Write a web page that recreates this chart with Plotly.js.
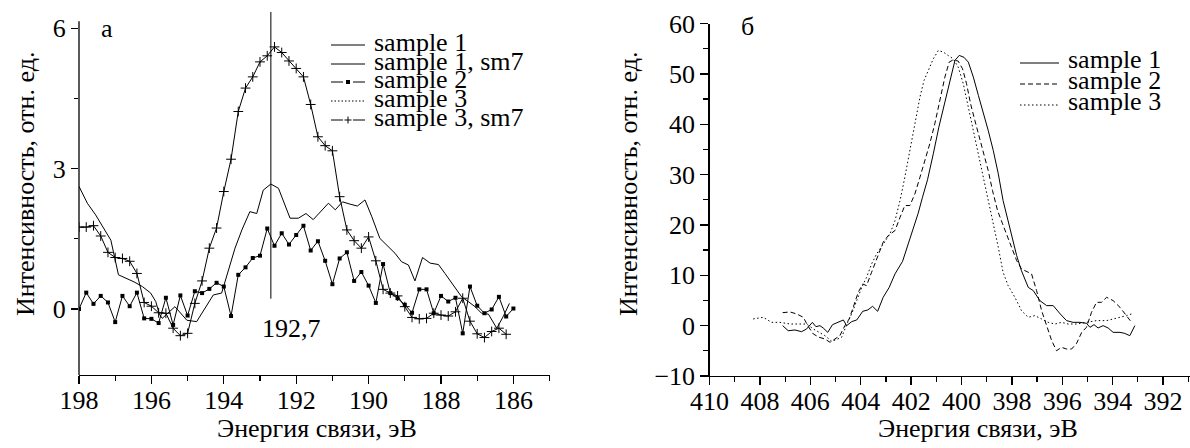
<!DOCTYPE html>
<html>
<head>
<meta charset="utf-8">
<script src="https://cdn.plot.ly/plotly-3.0.1.min.js"></script>
<style>
  html, body { margin: 0; padding: 0; background: #fff; }
  #chart { width: 1190px; height: 448px; }
</style>
</head>
<body>
<div id="chart"></div>
<script>
// ---------- Panel а: B 1s region ----------
const s1Energy = [198.0, 197.77, 197.54, 197.3, 197.12, 196.91, 196.71, 196.48, 196.25, 196.02,
  195.88, 195.78, 195.7, 195.35, 195.02, 194.75, 194.29, 194.06, 193.69, 193.5,
  193.28, 193.09, 192.91, 192.7, 192.49, 192.17, 191.94, 191.73, 191.53, 191.11,
  190.92, 190.72, 190.51, 190.31, 190.1, 189.91, 189.69, 189.46, 189.27, 189.09,
  188.9, 188.72, 188.51, 188.3, 188.07, 187.89, 187.66, 187.43, 187.25, 187.06,
  186.88, 186.69, 186.46, 186.28, 186.11];
const s1Intensity = [2.62, 2.26, 2.01, 1.69, 1.47, 0.73, 0.66, 0.58, 0.48, 0.34,
  0.16, -0.11, -0.2, 0.05, -0.24, -0.27, 0.30, 0.34, 1.30, 1.69,
  2.08, 2.04, 2.54, 2.67, 2.58, 1.94, 1.94, 2.04, 1.91, 2.26,
  2.12, 2.29, 2.24, 2.2, 2.33, 1.97, 1.51, 1.33, 1.19, 1.01,
  0.94, 0.60, 1.10, 0.98, 0.95, 0.76, 0.51, 0.26, 0.16, 0.05,
  -0.09, -0.11, -0.41, -0.16, 0.12];

const s2Energy = [198.0, 197.8, 197.6, 197.4, 197.2, 197.0, 196.8, 196.6, 196.4, 196.2,
  196.0, 195.8, 195.6, 195.4, 195.2, 195.0, 194.8, 194.6, 194.4, 194.2,
  194.0, 193.8, 193.6, 193.4, 193.2, 193.0, 192.8, 192.6, 192.4, 192.2,
  192.0, 191.8, 191.6, 191.4, 191.2, 191.0, 190.8, 190.6, 190.4, 190.2,
  190.0, 189.8, 189.6, 189.4, 189.2, 189.0, 188.8, 188.6, 188.4, 188.2,
  188.0, 187.8, 187.6, 187.4, 187.2, 187.0, 186.8, 186.6, 186.4, 186.2, 186.0];
const s2Intensity = [0.00, 0.35, 0.11, 0.28, 0.14, -0.28, 0.28, 0.06, 0.35, -0.20,
  -0.21, -0.30, 0.24, -0.34, 0.29, -0.14, 0.38, 0.34, 0.43, 0.56,
  0.48, -0.15, 0.73, 0.89, 1.09, 1.14, 1.72, 1.35, 1.62, 1.38,
  1.58, 1.78, 1.25, 1.45, 1.03, 0.53, 1.08, 1.21, 0.60, 0.79,
  0.50, 0.13, 0.96, 0.34, 0.23, 0.09, -0.08, 0.42, 0.42, -0.09,
  0.28, 0.16, 0.24, -0.52, 0.48, 0.07, -0.09, -0.01, 0.26, -0.16, 0.01];

const s3smEnergy = [198.0, 197.8, 197.6, 197.4, 197.2, 197.0, 196.8, 196.6, 196.4, 196.2,
  196.0, 195.8, 195.6, 195.4, 195.2, 195.0, 194.8, 194.6, 194.4, 194.2,
  194.0, 193.8, 193.6, 193.4, 193.2, 193.0, 192.8, 192.6, 192.4, 192.2,
  192.0, 191.8, 191.6, 191.4, 191.2, 191.0, 190.8, 190.6, 190.4, 190.2,
  190.0, 189.8, 189.6, 189.4, 189.2, 189.0, 188.8, 188.6, 188.4, 188.2,
  188.0, 187.8, 187.6, 187.4, 187.2, 187.0, 186.8, 186.6, 186.4, 186.2];
const s3smIntensity = [1.75, 1.75, 1.78, 1.56, 1.21, 1.10, 1.08, 1.02, 0.76, 0.14,
  0.06, -0.08, -0.09, -0.41, -0.57, -0.52, 0.12, 0.60, 1.30, 1.73,
  2.51, 3.20, 4.22, 4.72, 4.96, 5.28, 5.41, 5.60, 5.48, 5.30,
  5.14, 4.96, 4.37, 3.68, 3.49, 3.38, 2.40, 1.69, 1.46, 1.30,
  1.54, 1.03, 0.42, 0.34, 0.28, 0.05, -0.18, -0.21, -0.20, -0.09,
  -0.13, -0.15, -0.06, 0.23, -0.26, -0.53, -0.61, -0.48, -0.41, -0.54];

// marked peak position and the stem of its marker line
const peakEnergy = 192.7;
const peakLineBottom = 0.22;
const peakLineTop = 6.35;

const legendA = ['sample 1', 'sample 1, sm7', 'sample 2', 'sample 3', 'sample 3, sm7'];

// ---------- Panel б: N 1s region ----------
const n1Energy = [407.1, 406.88, 406.61, 406.35, 406.15, 405.92, 405.78, 405.62, 405.49, 405.31,
  405.12, 404.89, 404.69, 404.56, 404.36, 404.16, 403.92, 403.72, 403.53, 403.33,
  403.11, 402.87, 402.64, 402.34, 402.11, 401.92, 401.72, 401.55, 401.35, 401.12,
  400.9, 400.66, 400.42, 400.26, 400.09, 399.9, 399.73, 399.53, 399.33, 399.14,
  398.94, 398.74, 398.54, 398.35, 398.15, 398.01, 397.81, 397.62, 397.35, 397.15,
  396.89, 396.62, 396.36, 396.08, 395.83, 395.57, 395.30, 395.04, 394.9, 394.74,
  394.58, 394.38, 394.18, 393.98, 393.71, 393.52, 393.32, 393.12];
const n1Intensity = [0, -1.0, -0.86, -1.2, -0.66, 0.66, -0.2, 0, -0.46, -1.33,
  0.2, 0.66, 1.13, 0, 0.8, 1.13, 2.85, 3.12, 3.84, 2.85,
  5.63, 7.61, 10.28, 12.78, 16.24, 19.54, 22.33, 25.5, 28.97, 34.14,
  39.42, 44.4, 49.37, 52.7, 53.68, 53.3, 52.35, 49.37, 45.73, 42.4,
  38.77, 34.8, 30.16, 24.85, 20.87, 18.2, 13.9, 10.9, 7.6, 6.96,
  4.97, 3.98, 3.98, 2.32, 1.0, 0.66, 0.66, 0.46, -0.33, 0.2,
  -0.46, 0, -0.46, -1.33, -1.33, -1.53, -1.99, 0];

const n2Energy = [407.1, 406.81, 406.54, 406.28, 406.08, 405.88, 405.65, 405.42, 405.22, 405.02,
  404.83, 404.63, 404.46, 404.3, 404.1, 403.92, 403.77, 403.57, 403.37, 403.11,
  402.91, 402.64, 402.44, 402.25, 402.05, 401.85, 401.65, 401.45, 401.26, 401.06,
  400.86, 400.66, 400.49, 400.33, 400.13, 399.96, 399.8, 399.64, 399.47, 399.3,
  399.14, 398.94, 398.77, 398.57, 398.37, 398.21, 398.01, 397.81, 397.62, 397.42,
  397.22, 397.02, 396.82, 396.62, 396.42, 396.23, 396.03, 395.83, 395.63, 395.43,
  395.23, 395.04, 394.84, 394.64, 394.44, 394.24, 393.98, 393.71, 393.45, 393.25];
const n2Intensity = [2.58, 2.72, 2.32, 1.66, -0.2, -1.66, -2.32, -2.65, -3.31, -2.65,
  -1.99, 0, 1.33, 3.64, 6.63, 8.28, 7.95, 10.6, 13.26, 16.56,
  17.89, 18.89, 21.53, 23.86, 23.86, 26.18, 29.48, 32.8, 36.12, 40.1,
  44.73, 49.37, 52.35, 52.8, 52.55, 51.03, 48.05, 44.07, 40.76, 37.44,
  34.14, 30.8, 26.84, 22.86, 20.22, 18.2, 15.57, 12.92, 11.27, 10.8,
  10.28, 6.96, 2.98, 0, -2.98, -4.97, -4.31, -4.64, -4.64, -3.5,
  -1.33, -0.33, 2.65, 4.64, 4.64, 5.63, 4.97, 3.64, 1.99, 0.66];

const n3Energy = [408.27, 407.87, 407.54, 407.21, 406.81, 406.41, 406.15, 405.88, 405.62, 405.42,
  405.15, 404.96, 404.76, 404.56, 404.36, 404.16, 403.96, 403.77, 403.57, 403.37,
  403.11, 402.84, 402.64, 402.44, 402.25, 402.05, 401.85, 401.65, 401.49, 401.32,
  401.12, 400.92, 400.72, 400.53, 400.33, 400.13, 399.93, 399.73, 399.53, 399.33,
  399.14, 398.94, 398.74, 398.54, 398.35, 398.15, 397.88, 397.62, 397.35, 397.09,
  396.82, 396.56, 396.29, 396.03, 395.77, 395.43, 395.04, 394.64, 394.24, 393.85,
  393.45, 393.18];
const n3Intensity = [1.33, 1.66, 0.66, 0.66, 0.33, 0.33, 0.33, -0.66, -1.33, -1.99,
  -3.12, -2.65, -2.32, 0.2, 2.32, 4.97, 7.61, 9.6, 12.26, 14.25,
  16.24, 18.23, 20.87, 24.85, 29.48, 34.8, 40.76, 45.4, 48.7, 50.7,
  53.0, 54.67, 54.33, 53.68, 53.0, 51.35, 48.05, 43.4, 38.77, 34.14,
  30.16, 25.5, 20.87, 15.57, 10.6, 7.95, 5.63, 2.98, 1.66, 1.99,
  1.33, 0.66, 0.33, 0.66, 0.33, 0.33, 0.66, 1.0, 1.0, 1.46,
  1.99, 2.45];

const legendB = ['sample 1', 'sample 2', 'sample 3'];

const xTitle = 'Энергия связи, эВ';
const yTitle = 'Интенсивность, отн. ед.';

// ---------- layout helpers (pixel -> paper) ----------
const W = 1190, H = 448;
const FONT = '"Liberation Serif", "Times New Roman", "DejaVu Serif", serif';
const BLACK = '#000';
const px = v => v / W;
const py = v => 1 - v / H;

const lineStyle = { color: BLACK, width: 1 };

const traces = [
  { x: s1Energy, y: s1Intensity, xaxis: 'x', yaxis: 'y', mode: 'lines',
    line: lineStyle, name: 'sample 1' },
  { x: s2Energy, y: s2Intensity, xaxis: 'x', yaxis: 'y', mode: 'lines+markers',
    line: lineStyle, marker: { symbol: 'square', size: 4, color: BLACK }, name: 'sample 2' },
  { x: s3smEnergy, y: s3smIntensity, xaxis: 'x', yaxis: 'y', mode: 'lines+markers',
    line: lineStyle,
    marker: { symbol: 'cross-thin', size: 7, color: BLACK, line: { color: BLACK, width: 1 } },
    name: 'sample 3, sm7' },
  { x: n1Energy, y: n1Intensity, xaxis: 'x2', yaxis: 'y2', mode: 'lines',
    line: { color: BLACK, width: 1 }, name: 'sample 1' },
  { x: n2Energy, y: n2Intensity, xaxis: 'x2', yaxis: 'y2', mode: 'lines',
    line: { color: BLACK, width: 1, dash: '5px,3px' }, name: 'sample 2' },
  { x: n3Energy, y: n3Intensity, xaxis: 'x2', yaxis: 'y2', mode: 'lines',
    line: { color: BLACK, width: 1, dash: '1.5px,2.5px' }, name: 'sample 3' }
];

const tickFont = { family: FONT, size: 26, color: BLACK };
const axisBase = {
  showgrid: false, zeroline: false, showline: true, linecolor: BLACK, linewidth: 1.3,
  ticks: 'outside', tickcolor: BLACK, tickwidth: 1.3, tickfont: tickFont, fixedrange: true
};

const layout = {
  width: W, height: H,
  margin: { l: 0, r: 0, t: 0, b: 0 },
  paper_bgcolor: '#fff', plot_bgcolor: '#fff',
  showlegend: false,
  font: { family: FONT, size: 26, color: BLACK },
  xaxis: Object.assign({}, axisBase, {
    domain: [px(79), px(549.6)], range: [198, 185], anchor: 'y',
    tick0: 186, dtick: 2, ticklen: 8, ticklabelstandoff: -7,
    minor: { dtick: 1, ticklen: 5, tickwidth: 1.3, tickcolor: BLACK, ticks: 'outside' }
  }),
  yaxis: Object.assign({}, axisBase, {
    domain: [py(375), py(11.8)], range: [-1.41, 6.35], anchor: 'x',
    showline: false,
    tick0: 0, dtick: 3, ticklen: 7,
    minor: { dtick: 1.5, ticklen: 4, tickwidth: 1.3, tickcolor: BLACK, ticks: 'outside' }
  }),
  xaxis2: Object.assign({}, axisBase, {
    domain: [px(709.6), 1], range: [410, 390.93], anchor: 'y2',
    tick0: 410, dtick: 2, ticklen: 8, ticklabelstandoff: -7,
    minor: { dtick: 1, ticklen: 5, tickwidth: 1.3, tickcolor: BLACK, ticks: 'outside' }
  }),
  yaxis2: Object.assign({}, axisBase, {
    domain: [py(376), py(23.6)], range: [-10, 60], anchor: 'x2',
    tick0: 0, dtick: 10, ticklen: 8,
    minor: { dtick: 5, ticklen: 5, tickwidth: 1.3, tickcolor: BLACK, ticks: 'outside' }
  }),
  shapes: [],
  annotations: []
};

// left vertical axis line, drawn only up to the top of the value range
layout.shapes.push({ type: 'line', xref: 'x domain', yref: 'y', x0: 0, x1: 0,
  y0: -1.41, y1: 6.15, line: { color: BLACK, width: 1.3 } });

// peak marker line
layout.shapes.push({ type: 'line', xref: 'x', yref: 'y', x0: peakEnergy, x1: peakEnergy,
  y0: peakLineBottom, y1: peakLineTop, line: { color: BLACK, width: 1 } });

function addText(text, x, y, opts) {
  layout.annotations.push(Object.assign({
    text: text, xref: 'paper', yref: 'paper', x: px(x), y: py(y),
    showarrow: false, xanchor: 'center', yanchor: 'middle',
    font: { family: FONT, size: 26, color: BLACK }
  }, opts || {}));
}

// peak label
layout.annotations.push({
  text: String(peakEnergy).replace('.', ','), xref: 'x', yref: 'y', x: peakEnergy, y: -0.41,
  xanchor: 'left', yanchor: 'middle', xshift: -11, showarrow: false,
  font: { family: FONT, size: 26, color: BLACK }
});

// panel letters
addText('а', 107, 28);
addText('б', 747, 27);

// axis titles
addText(xTitle, 317, 428);
addText(xTitle, 978, 428);
addText(yTitle, 25, 184, { textangle: -90 });
addText(yTitle, 628, 184, { textangle: -90 });

// legend swatches
function seg(x0, x1, y, dash) {
  layout.shapes.push({ type: 'line', xref: 'paper', yref: 'paper',
    x0: px(x0), x1: px(x1), y0: py(y), y1: py(y),
    line: { color: BLACK, width: 1, dash: dash || 'solid' } });
}
function square(cx, cy) {
  layout.shapes.push({ type: 'rect', xref: 'paper', yref: 'paper',
    x0: px(cx - 2), x1: px(cx + 2), y0: py(cy + 2), y1: py(cy - 2),
    line: { width: 0 }, fillcolor: BLACK });
}
function plus(cx, cy) {
  seg(cx - 3.5, cx + 3.5, cy);
  layout.shapes.push({ type: 'line', xref: 'paper', yref: 'paper',
    x0: px(cx), x1: px(cx), y0: py(cy - 3.5), y1: py(cy + 3.5),
    line: { color: BLACK, width: 1 } });
}

const legA = { x0: 331, x1: 365, textX: 372, rows: [45, 64, 82, 101, 120] };
seg(legA.x0, legA.x1, legA.rows[0]);
seg(legA.x0, legA.x1, legA.rows[1]);
seg(legA.x0, 343, legA.rows[2]); square(348, legA.rows[2]); seg(353, legA.x1, legA.rows[2]);
seg(legA.x0, legA.x1, legA.rows[3], '1.5px,2px');
seg(legA.x0, 343, legA.rows[4]); plus(348, legA.rows[4]); seg(353, legA.x1, legA.rows[4]);
legendA.forEach((t, i) => addText(t, legA.textX, legA.rows[i] - 3, { xanchor: 'left' }));

const legB = { x0: 1020, x1: 1059, textX: 1066, rows: [63, 84, 105] };
seg(legB.x0, legB.x1, legB.rows[0]);
seg(legB.x0, legB.x1, legB.rows[1], '5px,3px');
seg(legB.x0, legB.x1, legB.rows[2], '1.5px,2.5px');
legendB.forEach((t, i) => addText(t, legB.textX, legB.rows[i] - 3, { xanchor: 'left' }));

Plotly.newPlot('chart', traces, layout, { displayModeBar: false, staticPlot: true });
</script>
</body>
</html>
